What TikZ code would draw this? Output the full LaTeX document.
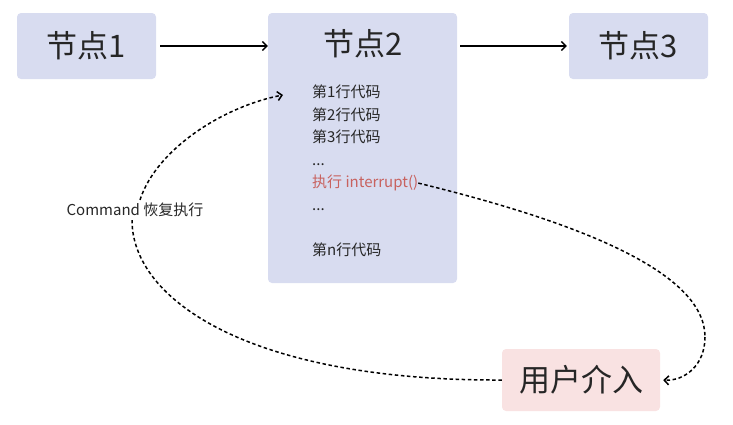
\documentclass[tikz,border=0pt]{standalone}
\usepackage{fontspec}
\setmainfont{Noto Sans CJK SC}
\usetikzlibrary{arrows.meta}
\definecolor{boxblue}{HTML}{D8DCF0}
\definecolor{boxpink}{HTML}{F9E2E2}
\definecolor{codered}{HTML}{C8625F}
\definecolor{txt}{HTML}{262626}
\begin{document}
\begin{tikzpicture}[x=1pt,y=-1pt,
  box/.style={rectangle, rounded corners=4pt, fill=boxblue, text=txt, font=\fontsize{31}{36}\selectfont, inner sep=0pt},
  title/.style={text=txt, font=\fontsize{31}{36}\selectfont, inner sep=0pt},
  code/.style={anchor=base west, text=txt, font=\fontsize{15}{18}\selectfont, inner sep=0pt},
  flow/.style={draw=black, line width=1.3pt, -{Straight Barb[length=4.5pt,width=9pt]}},
  dotflow/.style={draw=black, line width=1.5pt, dash pattern=on 3.5pt off 2.6pt, -{Straight Barb[length=4.5pt,width=9pt]}},
  lbl/.style={text=txt, font=\fontsize{15}{18}\selectfont, inner sep=3pt}
]
\useasboundingbox (0,0) rectangle (733,424);
% nodes
\node[box, minimum width=139pt, minimum height=66pt] (n1) at (86.5,46) {节点1};
\node[box, minimum width=189pt, minimum height=270pt] (n2) at (362.5,148) {};
\node[title] (t2) at (363,44) {节点2};
\node[box, minimum width=139pt, minimum height=66pt] (n3) at (638.5,46) {节点3};
\node[box, fill=boxpink, minimum width=158pt, minimum height=62pt] (user) at (581,380) {用户介入};
% code lines
\node[code] (l1) at (312,97.7) {第1行代码};
\node[code] (l2) at (312,120.2) {第2行代码};
\node[code] (l3) at (312,142.7) {第3行代码};
\node[code] (l4) at (312,165.2) {...};
\node[code, text=codered] (red) at (312,187.7) {执行 interrupt()};
\node[code] (l6) at (312,210.2) {...};
\node[code] (ln) at (312,255.2) {第n行代码};
% label
\node[lbl] (cmd) at (135,210) {Command 恢复执行};
\coordinate (in2) at (283,95);
\coordinate (bend) at (705,337);
% arrows
\draw[flow, shorten <=4pt] (n1.east) -- (n1.east -| n2.west);
\draw[flow, shorten <=3pt, shorten >=2pt] (n3.west -| n2.east) -- (n3.west);
\draw[dotflow, -] (user.west) .. controls (250,381) and (132,300) .. ([xshift=-3pt]cmd.south);
\draw[dotflow] ([xshift=5pt]cmd.north) .. controls (157,148) and (225,106) .. (in2);
\draw[dotflow, -] (red.east) .. controls (590,225) and (705,275) .. (bend);
\draw[dotflow, shorten >=3pt] (bend) .. controls (705,365) and (685,381) .. (user.east);
\end{tikzpicture}
\end{document}
